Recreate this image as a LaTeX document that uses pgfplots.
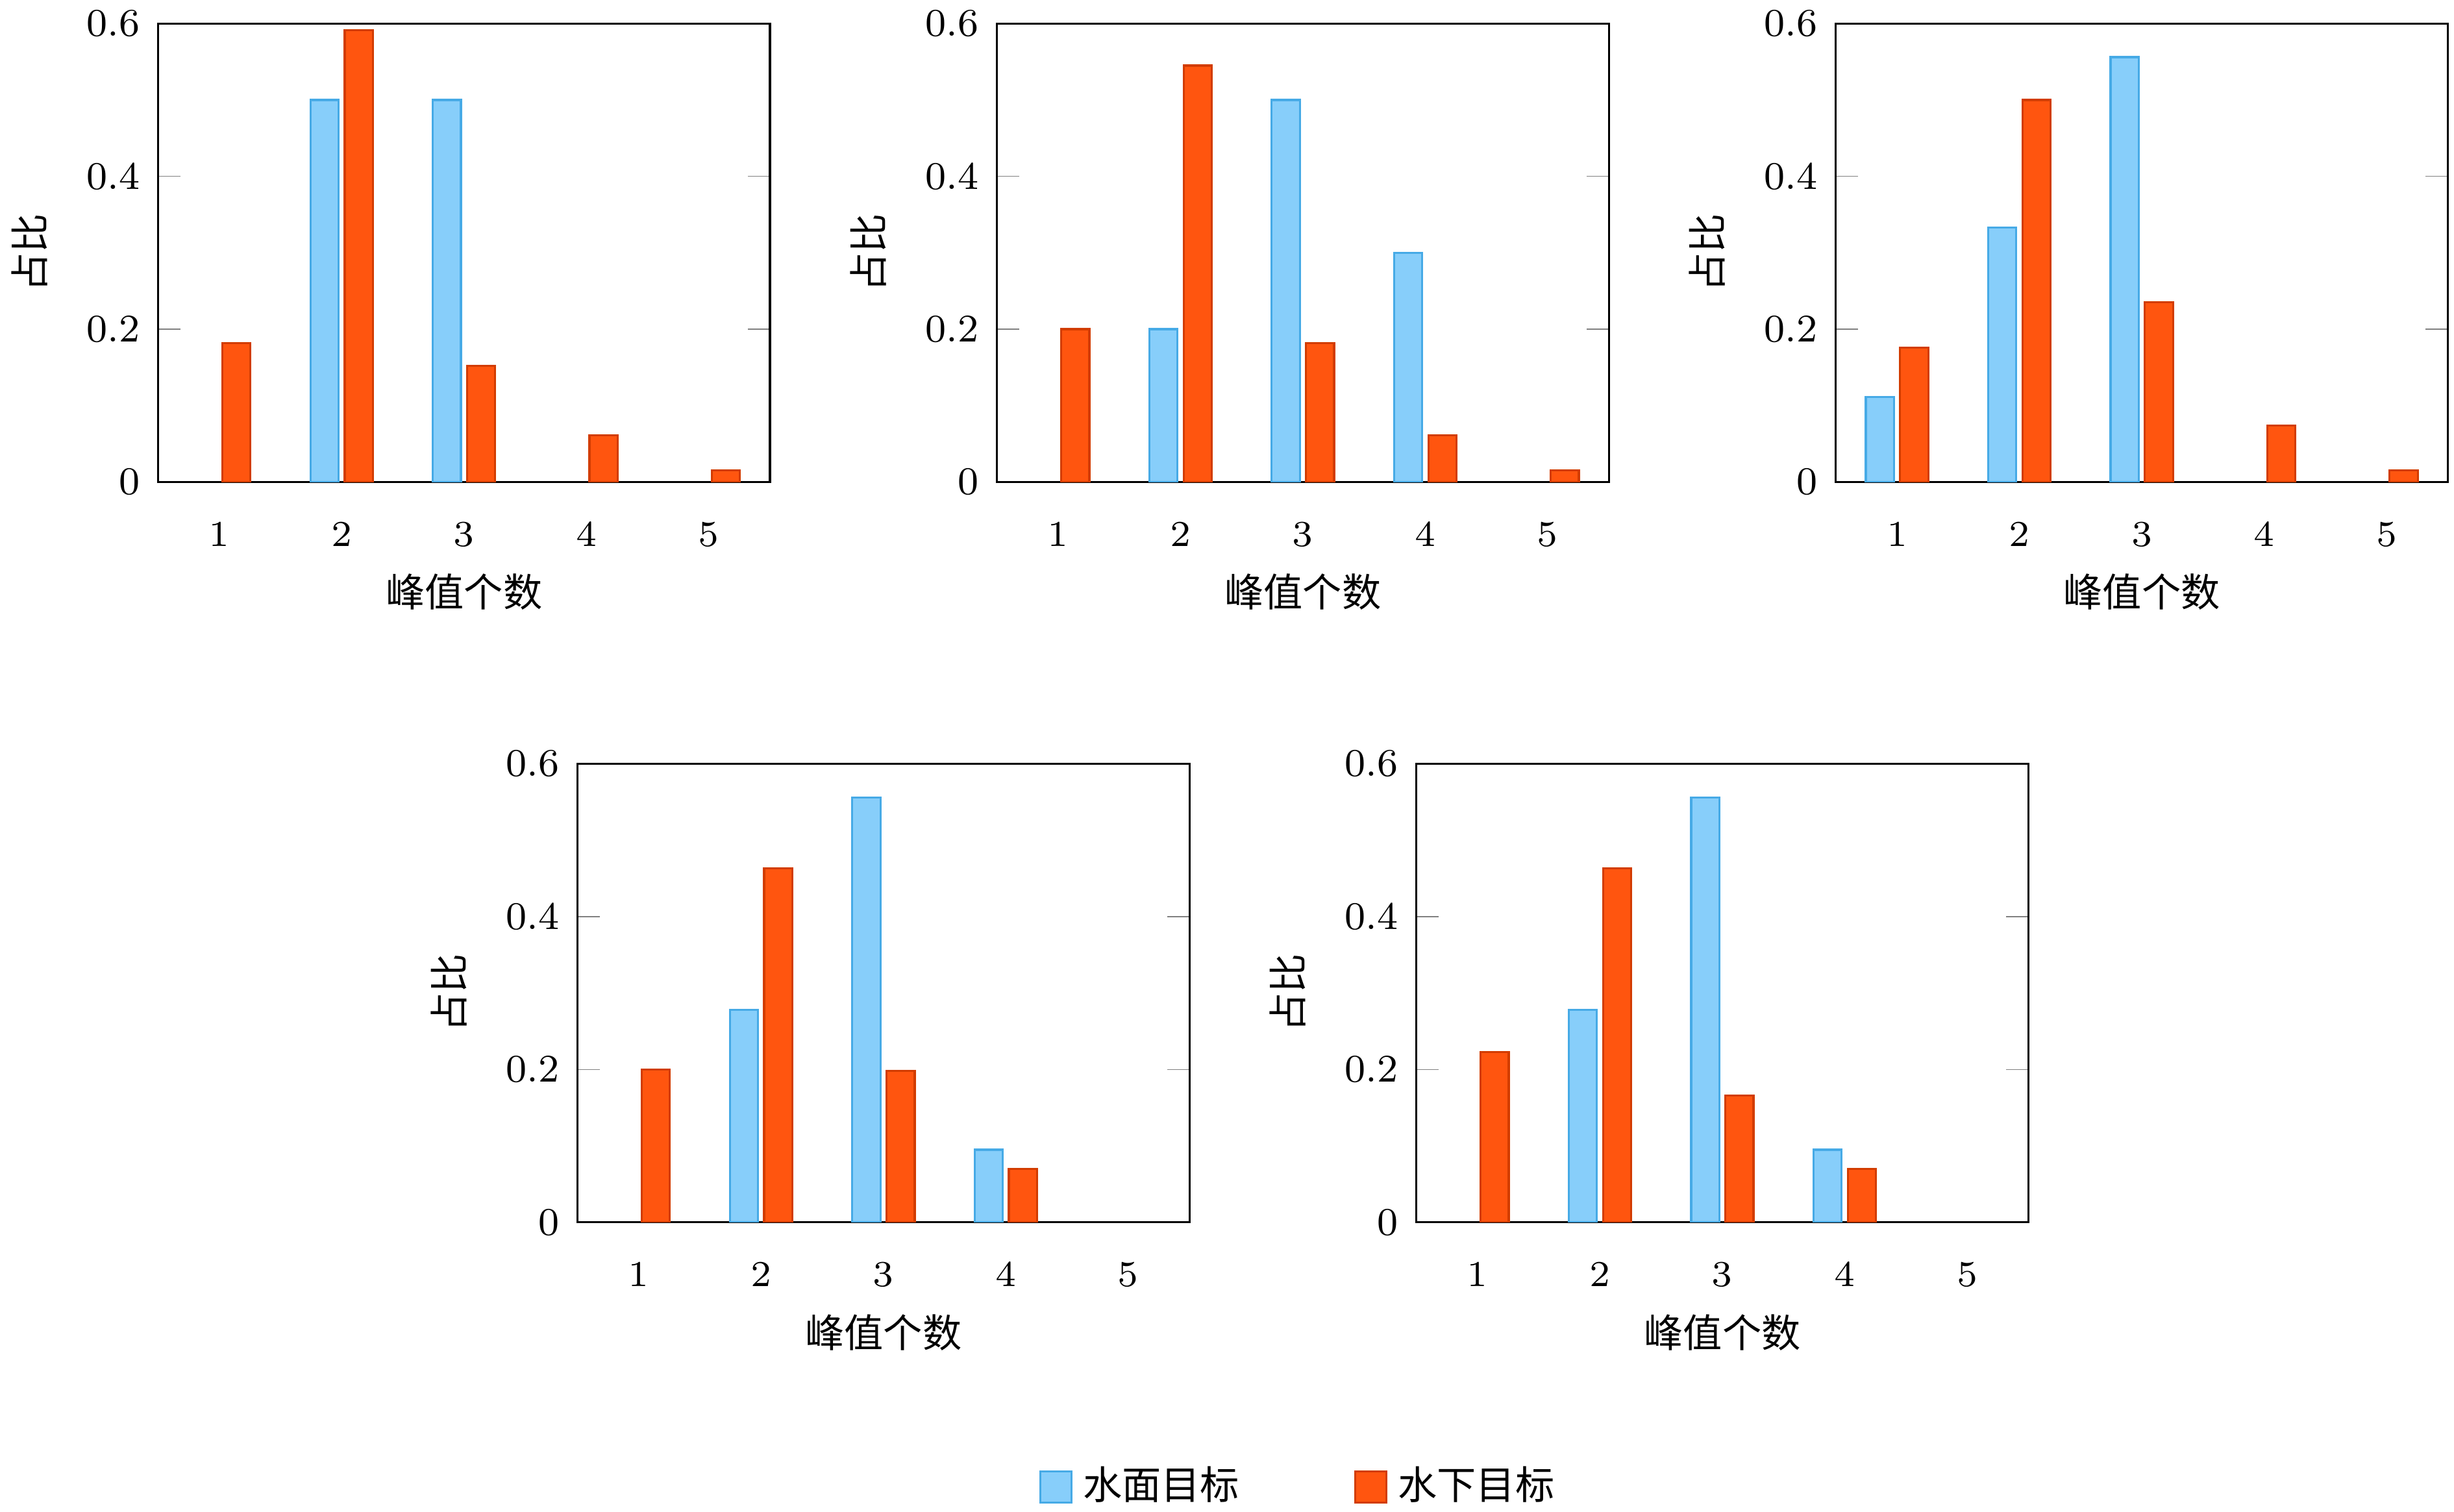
\documentclass[border=0pt]{standalone}
\usepackage{pgfplots}
\pgfplotsset{compat=1.18}
\usepackage{fontspec}
\newfontfamily\cjk{Noto Sans CJK SC}
\definecolor{cb}{RGB}{135,206,250}
\definecolor{cbd}{RGB}{70,170,230}
\definecolor{co}{RGB}{255,85,15}
\definecolor{cod}{RGB}{210,60,0}
\pgfplotsset{
 myax/.style={
  width=117.3pt,height=87.9pt,scale only axis,anchor=north west,
  xmin=0.5,xmax=5.5,ymin=0,ymax=0.6,
  xtick={1,2,3,4,5},xtick style={draw=none},
  ytick={0,0.2,0.4,0.6},yticklabels={0,0.2,0.4,0.6},
  tick align=inside,
  ybar,bar shift=0pt,bar width=0.23,
  font=\fontsize{7.5}{9}\selectfont,
  xlabel={\cjk 峰值个数},ylabel={\cjk 占比},
  xlabel style={at={(axis description cs:0.5,-0.24)},anchor=center},
  ylabel style={at={(axis description cs:-0.21,0.5)},anchor=center,rotate=0},
  ticklabel style={font=\fontsize{7.5}{9}\selectfont},
 },
 bb/.style={fill=cb,draw=cbd,line width=0.4pt},
 oo/.style={fill=co,draw=cod,line width=0.4pt},
}
\newcommand{\subcap}[1]{\node[font=\fontsize{7.5}{9}\selectfont] at (rel axis cs:0.5,-0.4) {#1};}
\begin{document}
\begin{tikzpicture}
\useasboundingbox (0,0) rectangle (470.4pt,-289.8pt);
\begin{axis}[myax,at={(30.3pt,-4.5pt)}]
\addplot[bb] coordinates {(1.86,0.5) (2.86,0.5)};
\addplot[oo] coordinates {(1.14,0.182) (2.14,0.591) (3.14,0.152) (4.14,0.061) (5.14,0.015)};
\subcap{(a) {\cjk 接收器深度}13 m}
\end{axis}
\begin{axis}[myax,at={(191.1pt,-4.5pt)}]
\addplot[bb] coordinates {(1.86,0.2) (2.86,0.5) (3.86,0.3)};
\addplot[oo] coordinates {(1.14,0.2) (2.14,0.545) (3.14,0.182) (4.14,0.061) (5.14,0.015)};
\subcap{(b) {\cjk 接收器深度}30 m}
\end{axis}
\begin{axis}[myax,at={(351.9pt,-4.5pt)}]
\addplot[bb] coordinates {(0.86,0.111) (1.86,0.333) (2.86,0.556)};
\addplot[oo] coordinates {(1.14,0.176) (2.14,0.5) (3.14,0.235) (4.14,0.074) (5.14,0.015)};
\subcap{(c) {\cjk 接收器深度}35 m}
\end{axis}
\begin{axis}[myax,at={(110.7pt,-146.4pt)},
  legend columns=2,legend cell align=left,
  legend style={at={(1.184,-0.577)},anchor=center,draw=none,fill=none,font=\fontsize{7.5}{9}\selectfont\cjk,/tikz/every even column/.append style={column sep=20pt}},
  legend image code/.code={\draw[#1] (0pt,-3pt) rectangle (6pt,3pt);}]
\addplot[bb] coordinates {(1.86,0.278) (2.86,0.556) (3.86,0.095)};
\addplot[oo] coordinates {(1.14,0.2) (2.14,0.463) (3.14,0.198) (4.14,0.07)};
\legend{水面目标,水下目标}
\subcap{(d) {\cjk 接收器深度}40 m}
\end{axis}
\begin{axis}[myax,at={(271.5pt,-146.4pt)}]
\addplot[bb] coordinates {(1.86,0.278) (2.86,0.556) (3.86,0.095)};
\addplot[oo] coordinates {(1.14,0.223) (2.14,0.463) (3.14,0.166) (4.14,0.07)};
\subcap{(e) {\cjk 接收器深度}45 m}
\end{axis}
\end{tikzpicture}
\end{document}
